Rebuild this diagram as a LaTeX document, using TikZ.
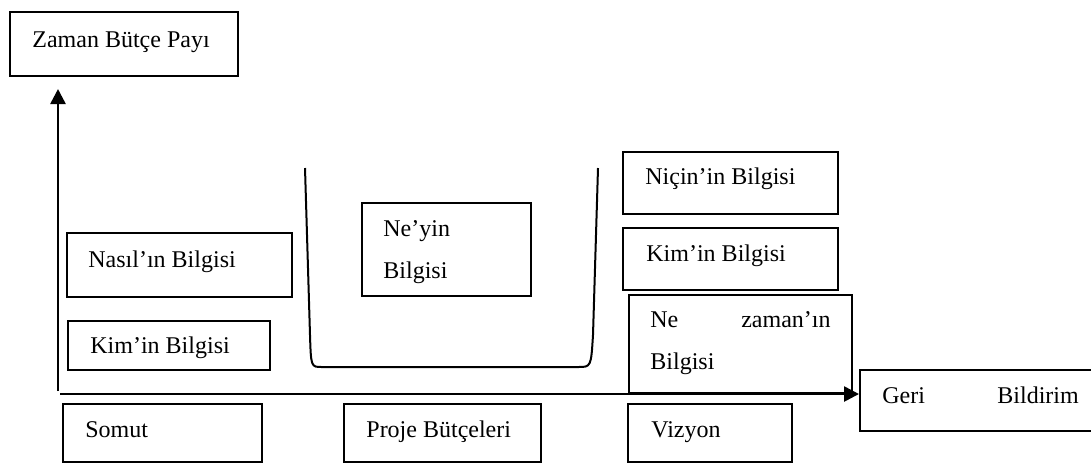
\documentclass[tikz,border=0pt]{standalone}
\usepackage{fontspec}
\setmainfont{Liberation Serif}
\usetikzlibrary{arrows.meta}
\begin{document}
\begin{tikzpicture}[x=0.5pt,y=-0.5pt,
  box/.style={draw,line width=1pt,anchor=north west,inner sep=0pt,outer sep=0pt},
  txt/.style={anchor=base west,inner sep=0pt,font=\fontsize{12}{14}\selectfont},
  axis/.style={line width=1.3pt,-{Triangle[length=7.5pt,width=7.5pt]}}]
\useasboundingbox (0,0) rectangle (1091,463);
\clip (0,0) rectangle (1091,463);
% boxes
\node[box,minimum width=114pt,minimum height=32pt] (zaman) at (10,12) {};
\node[box,minimum width=112.5pt,minimum height=32pt] (nasil) at (67,233) {};
\node[box,minimum width=101pt,minimum height=24.5pt] (kimL) at (68,321) {};
\node[box,minimum width=99.5pt,minimum height=29pt] (somut) at (63,404) {};
\node[box,minimum width=84.5pt,minimum height=46.5pt] (neyin) at (362,203) {};
\node[box,minimum width=98.5pt,minimum height=29pt] (proje) at (344,404) {};
\node[box,minimum width=107.5pt,minimum height=31pt] (nicin) at (623,152) {};
\node[box,minimum width=107.5pt,minimum height=31pt] (kimR) at (623,228) {};
\node[box,minimum width=111.5pt,minimum height=49pt] (nezaman) at (629,295) {};
\node[box,minimum width=82pt,minimum height=29pt] (vizyon) at (628,404) {};
\node[box,minimum width=120pt,minimum height=30.5pt] (geri) at (860,370) {};
% texts
\node[txt] (tzaman) at (32,47) {Zaman Bütçe Payı};
\node[txt] (tnasil) at (88,267) {Nasıl’ın Bilgisi};
\node[txt] (tkimL) at (90,353) {Kim’in Bilgisi};
\node[txt] (tsomut) at (85,437) {Somut};
\node[txt] (tneyin1) at (383,236) {Ne’yin};
\node[txt] (tneyin2) at (383,278) {Bilgisi};
\node[txt] (tproje) at (366,437) {Proje Bütçeleri};
\node[txt] (tnicin) at (645,184) {Niçin’in Bilgisi};
\node[txt] (tkimR) at (646,261) {Kim’in Bilgisi};
\node[txt] (tne) at (650,327) {Ne};
\node[txt,anchor=base east] (tzm) at (831,327) {zaman’ın};
\node[txt] (tnzb) at (650,369) {Bilgisi};
\node[txt] (tvizyon) at (651,437) {Vizyon};
\node[txt] (tgeri) at (882,403) {Geri};
\node[txt] (tbild) at (997,403) {Bildirim};
% U shape
\draw[line width=1pt] (305,168) -- (310,335) .. controls (311,367) .. (322,367)
  -- (578,367) .. controls (591,367) .. (593,335) -- (598,168);
% axes
\coordinate (vstart) at (58,391);
\coordinate (vtip) at (58,89);
\coordinate (hstart) at (60,394);
\coordinate (htip) at (859,394);
\draw[axis] (vstart) -- (vtip);
\draw[axis] (hstart) -- (htip);
\end{tikzpicture}
\end{document}
